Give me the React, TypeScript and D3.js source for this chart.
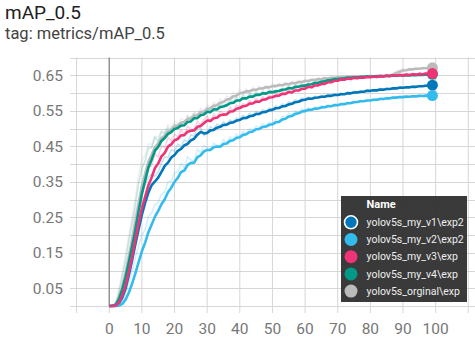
import * as d3 from 'd3'

// epochs 0..99, raw mAP_0.5 values (smoothed for display like TensorBoard)
const epochs = d3.range(0, 100)

const v1Raw = [
  0.000, 0.000, 0.002, 0.015, 0.045, 0.085, 0.140, 0.190, 0.240, 0.280,
  0.318, 0.342, 0.362, 0.372, 0.366, 0.378, 0.402, 0.420, 0.418, 0.440,
  0.436, 0.455, 0.450, 0.468, 0.462, 0.482, 0.478, 0.500, 0.502, 0.480,
  0.490, 0.505, 0.498, 0.512, 0.508, 0.518, 0.512, 0.524, 0.519, 0.530,
  0.527, 0.537, 0.530, 0.542, 0.538, 0.548, 0.542, 0.553, 0.548, 0.558,
  0.554, 0.564, 0.559, 0.569, 0.565, 0.575, 0.572, 0.581, 0.577, 0.586,
  0.583, 0.589, 0.583, 0.591, 0.588, 0.593, 0.589, 0.596, 0.592, 0.598,
  0.594, 0.600, 0.596, 0.603, 0.599, 0.605, 0.602, 0.606, 0.604, 0.610,
  0.606, 0.610, 0.607, 0.613, 0.609, 0.614, 0.611, 0.616, 0.613, 0.618,
  0.614, 0.618, 0.616, 0.620, 0.617, 0.621, 0.619, 0.623, 0.621, 0.624,
]
const v2Raw = [
  0.000, 0.000, 0.000, 0.002, 0.012, 0.035, 0.065, 0.100, 0.135, 0.170,
  0.200, 0.215, 0.252, 0.262, 0.285, 0.292, 0.315, 0.322, 0.350, 0.352,
  0.375, 0.378, 0.402, 0.388, 0.420, 0.412, 0.405, 0.442, 0.432, 0.452,
  0.446, 0.440, 0.458, 0.452, 0.448, 0.468, 0.460, 0.476, 0.470, 0.484,
  0.478, 0.492, 0.486, 0.500, 0.494, 0.507, 0.500, 0.513, 0.507, 0.518,
  0.514, 0.526, 0.520, 0.535, 0.531, 0.543, 0.538, 0.550, 0.545, 0.555,
  0.551, 0.558, 0.553, 0.561, 0.557, 0.564, 0.560, 0.567, 0.563, 0.570,
  0.566, 0.572, 0.569, 0.575, 0.572, 0.578, 0.575, 0.580, 0.577, 0.582,
  0.579, 0.584, 0.581, 0.586, 0.583, 0.588, 0.585, 0.590, 0.587, 0.591,
  0.588, 0.592, 0.589, 0.593, 0.590, 0.594, 0.591, 0.594, 0.591, 0.594,
]
const v3Raw = [
  0.000, 0.000, 0.002, 0.020, 0.055, 0.098, 0.150, 0.200, 0.258, 0.300,
  0.340, 0.355, 0.390, 0.395, 0.428, 0.420, 0.452, 0.446, 0.475, 0.465,
  0.484, 0.476, 0.496, 0.482, 0.506, 0.498, 0.496, 0.520, 0.510, 0.526,
  0.534, 0.520, 0.540, 0.532, 0.548, 0.542, 0.541, 0.560, 0.550, 0.566,
  0.561, 0.570, 0.566, 0.579, 0.571, 0.585, 0.574, 0.590, 0.583, 0.595,
  0.589, 0.598, 0.593, 0.605, 0.598, 0.611, 0.600, 0.615, 0.607, 0.619,
  0.613, 0.625, 0.614, 0.629, 0.622, 0.631, 0.626, 0.637, 0.630, 0.641,
  0.635, 0.644, 0.636, 0.646, 0.638, 0.647, 0.641, 0.646, 0.643, 0.648,
  0.644, 0.649, 0.643, 0.651, 0.645, 0.652, 0.646, 0.653, 0.647, 0.654,
  0.648, 0.655, 0.649, 0.656, 0.650, 0.657, 0.651, 0.658, 0.651, 0.657,
]
const v4Raw = [
  0.000, 0.001, 0.006, 0.040, 0.082, 0.128, 0.183, 0.232, 0.285, 0.345,
  0.388, 0.410, 0.445, 0.446, 0.475, 0.464, 0.490, 0.486, 0.502, 0.498,
  0.512, 0.506, 0.518, 0.510, 0.533, 0.522, 0.542, 0.530, 0.550, 0.543,
  0.558, 0.545, 0.565, 0.553, 0.572, 0.564, 0.570, 0.580, 0.574, 0.589,
  0.579, 0.595, 0.584, 0.598, 0.589, 0.603, 0.594, 0.606, 0.597, 0.609,
  0.602, 0.608, 0.607, 0.614, 0.611, 0.620, 0.611, 0.624, 0.618, 0.625,
  0.621, 0.628, 0.626, 0.634, 0.630, 0.636, 0.634, 0.640, 0.637, 0.644,
  0.639, 0.643, 0.641, 0.647, 0.642, 0.647, 0.643, 0.648, 0.645, 0.649,
  0.644, 0.649, 0.646, 0.650, 0.646, 0.651, 0.647, 0.651, 0.648, 0.652,
  0.647, 0.652, 0.648, 0.653, 0.650, 0.653, 0.650, 0.654, 0.651, 0.654,
]
const origRaw = [
  0.000, 0.002, 0.010, 0.050, 0.095, 0.145, 0.200, 0.250, 0.305, 0.370,
  0.412, 0.425, 0.458, 0.455, 0.478, 0.476, 0.495, 0.490, 0.510, 0.505,
  0.520, 0.512, 0.528, 0.522, 0.538, 0.532, 0.547, 0.540, 0.558, 0.550,
  0.566, 0.560, 0.574, 0.568, 0.583, 0.578, 0.592, 0.586, 0.601, 0.597,
  0.609, 0.602, 0.612, 0.604, 0.616, 0.608, 0.619, 0.612, 0.622, 0.615,
  0.625, 0.619, 0.627, 0.621, 0.630, 0.624, 0.633, 0.627, 0.636, 0.630,
  0.639, 0.634, 0.641, 0.636, 0.643, 0.638, 0.645, 0.640, 0.646, 0.642,
  0.647, 0.643, 0.648, 0.644, 0.648, 0.645, 0.649, 0.645, 0.649, 0.646,
  0.649, 0.646, 0.650, 0.647, 0.650, 0.648, 0.651, 0.656, 0.663, 0.665,
  0.669, 0.665, 0.670, 0.667, 0.671, 0.668, 0.672, 0.670, 0.673, 0.671,
]

const runNames = [
  'yolov5s_my_v1\\exp2',
  'yolov5s_my_v2\\exp2',
  'yolov5s_my_v3\\exp',
  'yolov5s_my_v4\\exp',
  'yolov5s_orginal\\exp',
]
const runColors = ['#0077bb', '#33bbee', '#ee3377', '#009988', '#bbbbbb']
const runValues = [v1Raw, v2Raw, v3Raw, v4Raw, origRaw]
// order the lines are painted in (last on top)
const drawOrder = [4, 3, 0, 1, 2]

const xTicks = [0, 10, 20, 30, 40, 50, 60, 70, 80, 90, 100]
const xGrid = [-10, 0, 10, 20, 30, 40, 50, 60, 70, 80, 90, 100, 110]
const yTicks = [0.05, 0.15, 0.25, 0.35, 0.45, 0.55, 0.65]
const yGrid = [0, 0.05, 0.1, 0.15, 0.2, 0.25, 0.3, 0.35, 0.4, 0.45, 0.5, 0.55, 0.6, 0.65, 0.7]

const W = 475
const H = 339
const font = 'Roboto, "Noto Sans", sans-serif'

// tensorboard-style debiased EMA
function smooth(vals: number[], w = 0.6) {
  let last = 0
  let dw = 0
  return vals.map(v => {
    last = last * w + (1 - w) * v
    dw = dw * w + (1 - w)
    return last / dw
  })
}

export default function App() {
  const x = d3.scaleLinear().domain([-10, 110]).range([76.6, 468.3])
  const y = d3.scaleLinear().domain([0, 0.7]).range([306, 57.5])

  const line = d3
    .line<number>()
    .x((_, i) => x(epochs[i]))
    .y(d => y(d))

  const smoothed = runValues.map(v => smooth(v))

  return (
    <div style={{ position: 'absolute', left: 0, top: 0 }}>
      <svg width={W} height={H} style={{ display: 'block', background: '#fff' }}>
        <text x={5} y={19} fontFamily={font} fontSize={19} fill="#212121">mAP_0.5</text>
        <text x={5} y={39} fontFamily={font} fontSize={16.5} fill="#424242">tag: metrics/mAP_0.5</text>

        {/* grid */}
        <g stroke="#d6d6d6" strokeWidth={1}>
          {yGrid.map(t => (
            <line key={'h' + t} x1={70} x2={W} y1={Math.round(y(t)) + 0.5} y2={Math.round(y(t)) + 0.5} />
          ))}
          {xGrid.map(t => (
            <line key={'v' + t} x1={x(t)} x2={x(t)} y1={y(0.7)} y2={313} />
          ))}
        </g>
        <line x1={x(0)} x2={x(0)} y1={y(0.7)} y2={y(0)} stroke="#8a8a8a" strokeWidth={1.3} />

        {/* tick labels */}
        <g fontFamily={font} fontSize={15.5} fill="#777">
          {yTicks.map(t => (
            <text key={t} x={63} y={y(t)} dy="0.36em" textAnchor="end">{t.toFixed(2)}</text>
          ))}
          {xTicks.map(t => (
            <text key={t} x={x(t)} y={334} textAnchor="middle">{t}</text>
          ))}
        </g>

        {/* raw (faint) lines */}
        <g fill="none" strokeWidth={1.6} strokeOpacity={0.22}>
          {drawOrder.map(i => (
            <path key={'r' + i} d={line(runValues[i]) || ''} stroke={runColors[i]} />
          ))}
        </g>
        {/* smoothed lines */}
        <g fill="none" strokeWidth={2.6} strokeLinejoin="round">
          {drawOrder.map(i => (
            <path key={'s' + i} d={line(smoothed[i]) || ''} stroke={runColors[i]} />
          ))}
        </g>
        {/* end markers */}
        {drawOrder.map(i => {
          const s = smoothed[i]
          return (
            <circle key={'c' + i} cx={x(epochs[epochs.length - 1])} cy={y(s[s.length - 1])} r={5.5} fill={runColors[i]} />
          )
        })}

        {/* legend */}
        <g>
          <rect x={341} y={196} width={126} height={106} fill="#2e2e2e" fillOpacity={0.94} />
          <text x={366.5} y={208} fontFamily={font} fontSize={11} fontWeight="bold" fill="#fff">Name</text>
          {runNames.map((n, i) => {
            const cy = 222.3 + i * 17.2
            return (
              <g key={n}>
                <circle cx={351} cy={cy} r={6.5} fill={runColors[i]} stroke={i === 0 ? '#fff' : 'none'} strokeWidth={1.6} />
                <text x={366.5} y={cy} dy="0.35em" fontFamily={font} fontSize={10.5} fill="#eee">{n}</text>
              </g>
            )
          })}
        </g>
      </svg>
    </div>
  )
}
